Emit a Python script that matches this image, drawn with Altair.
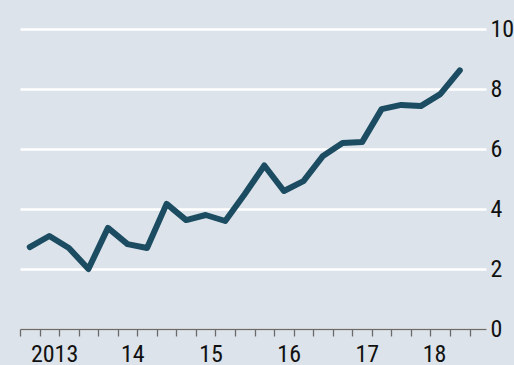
import altair as alt
import pandas as pd

# Quarterly series, Q1 2013 .. Q3 2018
quarters = ["2013Q1", "2013Q2", "2013Q3", "2013Q4",
            "2014Q1", "2014Q2", "2014Q3", "2014Q4",
            "2015Q1", "2015Q2", "2015Q3", "2015Q4",
            "2016Q1", "2016Q2", "2016Q3", "2016Q4",
            "2017Q1", "2017Q2", "2017Q3", "2017Q4",
            "2018Q1", "2018Q2", "2018Q3"]
values = [2.73, 3.1, 2.7, 2.0,
          3.37, 2.83, 2.7, 4.17,
          3.63, 3.8, 3.6, 4.5,
          5.45, 4.6, 4.93, 5.77,
          6.2, 6.23, 7.33, 7.47,
          7.43, 7.83, 8.62]
years = [2013, 2014, 2015, 2016, 2017, 2018]
year_labels = ["2013", "14", "15", "16", "17", "18"]
y_ticks = [0, 2, 4, 6, 8, 10]

def to_num(q):
    y, n = q.split("Q")
    return int(y) + (int(n) - 0.5) / 4

df = pd.DataFrame({"t": [to_num(q) for q in quarters], "v": values})

quarter_ticks = [years[0] + k / 4 for k in range(24)]
label_expr = " : ".join(
    f"datum.value == {y + 0.5} ? '{lab}'" for y, lab in zip(years, year_labels)
) + " : ''"

FONT = "Liberation Sans Narrow, Roboto Condensed, Roboto, sans-serif"

line = alt.Chart(df).mark_line(
    color="#1b4c61", strokeWidth=6, strokeCap="round", strokeJoin="round"
).encode(
    x=alt.X("t:Q", scale=alt.Scale(domain=[2013, 2018.96], nice=False, zero=False),
            axis=alt.Axis(values=quarter_ticks, labelExpr=label_expr, grid=False,
                          domainColor="#6b6b6b", domainWidth=1.5,
                          tickColor="#6b6b6b", tickWidth=1.3, tickSize=7,
                          labelFont=FONT, labelFontSize=24, labelColor="#111111",
                          labelPadding=6, labelOverlap=False, labelFlush=False,
                          labelBound=False,
                          labelOffset={"condition": {"test": "datum.value == 2018.5", "value": -16},
                                       "value": -5},
                          title=None)),
    y=alt.Y("v:Q", scale=alt.Scale(domain=[0, 10], nice=False),
            axis=alt.Axis(orient="right", values=y_ticks, grid=True,
                          gridColor="#ffffff", gridWidth=2.5, domain=False,
                          ticks=False, labelFont=FONT, labelFontSize=24,
                          labelColor="#111111", labelPadding=4,
                          labelAlign="left", labelBaseline="middle",
                          title=None)),
)

chart = line.properties(
    width=466, height=300,
    background="#dce3ea",
    padding={"left": 20, "top": 29, "right": 28, "bottom": 36},
    autosize=alt.AutoSizeParams(type="none"),
).configure_view(stroke=None)

chart.save("out.html", embed_options={"renderer": "svg", "actions": False})
